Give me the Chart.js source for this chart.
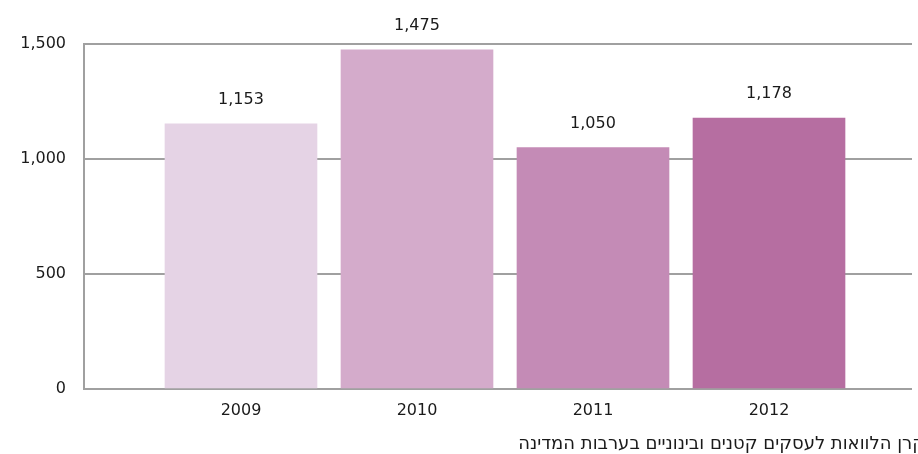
<!DOCTYPE html>
<html>
<head>
<meta charset="utf-8">
<script src="https://cdn.jsdelivr.net/npm/chart.js@4"></script>
<style>
html,body{margin:0;padding:0;background:#fff;overflow:hidden;}
#wrap{width:918px;height:454px;position:relative;overflow:hidden;}
#cap{position:absolute;right:-7px;top:432px;font-family:"DejaVu Sans",sans-serif;font-size:18px;color:#1a1a1a;white-space:nowrap;direction:rtl;line-height:22px;}
</style>
</head>
<body>
<div id="wrap"><canvas id="c" width="918" height="454"></canvas><div id="cap" dir="rtl"></div></div>
<script>
const categories = ['2009', '2010', '2011', '2012'];
const values = [1153, 1475, 1050, 1178];
const barColors = ['#e5d3e5', '#d4abcb', '#c48bb6', '#b66ea1'];
const yTicks = [0, 500, 1000, 1500];
const caption = 'קרן הלוואות לעסקים קטנים ובינוניים בערבות המדינה';

document.getElementById('cap').textContent = caption;

const FONT = '"DejaVu Sans", sans-serif';

const labelPlugin = {
  id: 'labels',
  afterDatasetsDraw(chart) {
    const ctx = chart.ctx;
    const meta = chart.getDatasetMeta(0);
    ctx.save();
    ctx.font = '16px ' + FONT;
    ctx.fillStyle = '#1a1a1a';
    ctx.textAlign = 'center';
    ctx.textBaseline = 'middle';
    meta.data.forEach((el, i) => {
      ctx.fillText(values[i].toLocaleString('en-US'), el.x, el.y - 24);
    });
    ctx.restore();
  }
};

new Chart(document.getElementById('c'), {
  type: 'bar',
  data: {
    datasets: [{
      data: values.map((v, i) => ({ x: i, y: v })),
      backgroundColor: barColors,
      borderWidth: 0,
      barThickness: 152
    }]
  },
  options: {
    responsive: false,
    animation: false,
    events: [],
    layout: { padding: { top: 44, right: 6, left: 0, bottom: 0 } },
    plugins: { legend: { display: false }, tooltip: { enabled: false }, title: { display: false } },
    scales: {
      x: {
        type: 'linear',
        offset: false,
        min: -0.892,
        max: 3.8125,
        afterBuildTicks(scale) { scale.ticks = categories.map((c, i) => ({ value: i })); },
        afterFit(scale) { scale.height = 65; },
        grid: { display: false, drawTicks: false, offset: false },
        border: { display: false },
        ticks: {
          padding: 12,
          color: '#1a1a1a',
          font: { family: FONT, size: 16 },
          callback: (v) => categories[v]
        }
      },
      y: {
        min: 0,
        max: 1500,
        afterBuildTicks(scale) { scale.ticks = yTicks.map(v => ({ value: v })); },
        afterFit(scale) { scale.width = 84; },
        grid: { color: '#a0a0a0', lineWidth: 2, drawTicks: false },
        border: { display: true, color: '#a0a0a0', width: 2 },
        ticks: {
          padding: 18,
          color: '#1a1a1a',
          font: { family: FONT, size: 16 },
          callback: (v) => v.toLocaleString('en-US')
        }
      }
    }
  },
  plugins: [labelPlugin]
});
</script>
</body>
</html>
